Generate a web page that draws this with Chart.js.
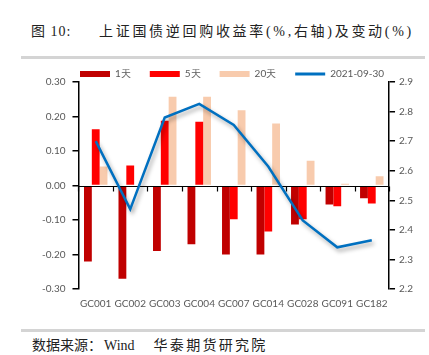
<!DOCTYPE html>
<html><head><meta charset="utf-8">
<script src="https://cdn.jsdelivr.net/npm/chart.js@4/dist/chart.umd.min.js"></script>
<style>
html,body{margin:0;padding:0;background:#fff;width:429px;height:355px;overflow:hidden;}
#title{position:absolute;left:31px;top:20px;font-family:"Liberation Serif","Noto Sans CJK SC",serif;font-size:14px;letter-spacing:2.7px;color:#222;white-space:nowrap;}
#title span{display:inline-block;width:68px;letter-spacing:1px;}
.rule{position:absolute;left:21px;width:404px;height:3px;background:#d4d4d4;}
#src{position:absolute;left:32px;top:334px;font-family:"Liberation Serif","Noto Sans CJK SC",serif;font-size:14px;color:#222;white-space:nowrap;}
#src .w{display:inline-block;margin-left:2px;}
#src b{font-weight:normal;letter-spacing:2.3px;display:inline-block;margin-left:19px;}
#wrap{position:absolute;left:0;top:50px;width:429px;height:261px;}
</style></head>
<body>
<div id="title"><span>图 10:</span>上证国债逆回购收益率(%,右轴)及变动(%)</div>
<div class="rule" style="top:56px"></div>
<div class="rule" style="top:329px"></div>
<div id="src">数据来源：<span class="w">Wind</span><b>华泰期货研究院</b></div>
<div id="wrap"><canvas id="c"></canvas></div>
<script>
const categories = ["GC001","GC002","GC003","GC004","GC007","GC014","GC028","GC091","GC182"];
const change1d  = [-0.22,-0.27,-0.19,-0.17,-0.20,-0.20,-0.113,-0.055,-0.037];
const change5d  = [0.163,0.058,0.188,0.185,-0.098,-0.133,-0.098,-0.06,-0.052];
const change20d = [0.055,0.0,0.257,0.257,0.218,0.18,0.072,0.005,0.027];
const yield0930 = [2.70,2.47,2.78,2.826,2.755,2.614,2.432,2.341,2.365];
const leftTicks = [-0.3,0.3,0.1];
const rightTicks = [2.2,2.9,0.1];

const gray = '#595959';
const font = {family:'Lato, "Liberation Sans", sans-serif', size:10};

const zeroLine = {
  id:'zeroLine',
  afterLayout(chart){
    if(chart.legend){ chart.legend.left += 6; chart.legend.right += 6; }
  },
  afterDatasetDraw(chart, args){
    if(args.index===3){ chart.ctx.restore(); return; }
    if(args.index!==0) return;
    const x = chart.scales.x, y = chart.scales.y, ctx = chart.ctx;
    const y0 = Math.round(y.getPixelForValue(0))+0.5;
    ctx.save();
    ctx.strokeStyle='#000'; ctx.lineWidth=1.2;
    ctx.beginPath(); ctx.moveTo(chart.chartArea.left,y0); ctx.lineTo(chart.chartArea.right,y0); ctx.stroke();
    for(let i=0;i<=categories.length;i++){
      const px = Math.round(x.getPixelForValue(i-0.5))+0.5;
      ctx.beginPath(); ctx.moveTo(px,y0); ctx.lineTo(px,y0+5); ctx.stroke();
    }
    ctx.restore();
  },
  beforeDatasetDraw(chart,args){
    if(args.index===3){
      const ctx=chart.ctx; ctx.save();
      ctx.shadowColor='rgba(0,0,0,0.35)'; ctx.shadowBlur=4; ctx.shadowOffsetX=2; ctx.shadowOffsetY=3;
    }
  }
};

new Chart(document.getElementById('c'),{
  data:{
    labels:categories,
    datasets:[
      {type:'bar',label:'1天',data:change1d,backgroundColor:'#C00000',yAxisID:'y',order:1,borderWidth:0},
      {type:'bar',label:'5天',data:change5d,backgroundColor:'#FF0000',yAxisID:'y',order:1,borderWidth:0},
      {type:'bar',label:'20天',data:change20d,backgroundColor:'#F8CBAD',yAxisID:'y',order:1,borderWidth:0},
      {type:'line',label:'2021-09-30',data:yield0930,borderColor:'#0070C0',backgroundColor:'#0070C0',borderWidth:2.5,pointRadius:0,tension:0,yAxisID:'y1',order:0}
    ]
  },
  options:{
    responsive:true,maintainAspectRatio:false,animation:false,
    layout:{padding:{left:35,right:12,top:0,bottom:0}},
    datasets:{bar:{barPercentage:1,categoryPercentage:0.68}},
    plugins:{
      tooltip:{enabled:false},
      legend:{position:'top',maxHeight:32,
        labels:{usePointStyle:true,pointStyleWidth:30,boxHeight:6,padding:19,color:gray,font:{family:font.family,size:10},
          generateLabels(chart){
            return chart.data.datasets.map((d,i)=>({text:d.label,fillStyle:d.backgroundColor,strokeStyle:d.borderColor||d.backgroundColor,
              lineWidth:d.type==='line'?3:0,pointStyle:d.type==='line'?'line':'rect',datasetIndex:i,fontColor:gray,hidden:false}));
          }}}
    },
    scales:{
      x:{grid:{display:false},border:{display:false},ticks:{color:gray,font,padding:1,maxRotation:0}},
      y:{position:'left',min:leftTicks[0],max:leftTicks[1],
        ticks:{stepSize:leftTicks[2],color:gray,font,padding:7,callback:v=>v.toFixed(2)},
        grid:{drawOnChartArea:false,drawTicks:true,tickLength:6,color:'#000',lineWidth:1.5},
        border:{display:true,color:'#000',width:1.5}},
      y1:{position:'right',min:rightTicks[0],max:rightTicks[1],
        ticks:{stepSize:rightTicks[2],color:gray,font,padding:4,callback:v=>v.toFixed(1)},
        grid:{drawOnChartArea:false,drawTicks:true,tickLength:6,color:'#000',lineWidth:1.5},
        border:{display:true,color:'#000',width:1.5}}
    }
  },
  plugins:[zeroLine]
});
</script>
</body></html>
